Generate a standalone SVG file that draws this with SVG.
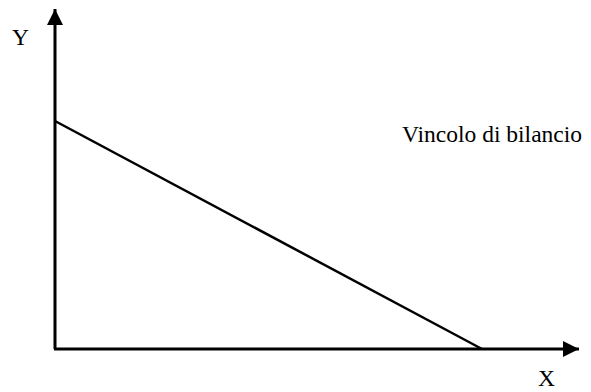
<svg xmlns="http://www.w3.org/2000/svg" width="591" height="392" viewBox="0 0 591 392">
<style>
.ax{stroke:#000;stroke-width:3;fill:none}
.ln{stroke:#000;stroke-width:2.5;fill:none}
.t{font-family:"Liberation Serif","Times New Roman",serif;font-size:23.5px;fill:#000}
</style>
<defs>
<marker id="ah" markerWidth="16" markerHeight="16" refX="16" refY="8" viewBox="0 0 16 16" markerUnits="userSpaceOnUse" orient="auto">
<path d="M0,0 L16,8 L0,16 Z" fill="#000"/>
</marker>
</defs>
<g id="connectors">
<path class="ax" d="M55,349 L55,9" marker-end="url(#ah)"/>
<path class="ax" d="M54,349 L579,349" marker-end="url(#ah)"/>
<path class="ln" d="M55,121 L482,349"/>
</g>
<g id="label-y"><text class="t" x="12" y="45">Y</text></g>
<g id="label-x"><text class="t" x="538" y="386">X</text></g>
<g id="label-vincolo"><text class="t" x="402" y="142">Vincolo di bilancio</text></g>
</svg>
